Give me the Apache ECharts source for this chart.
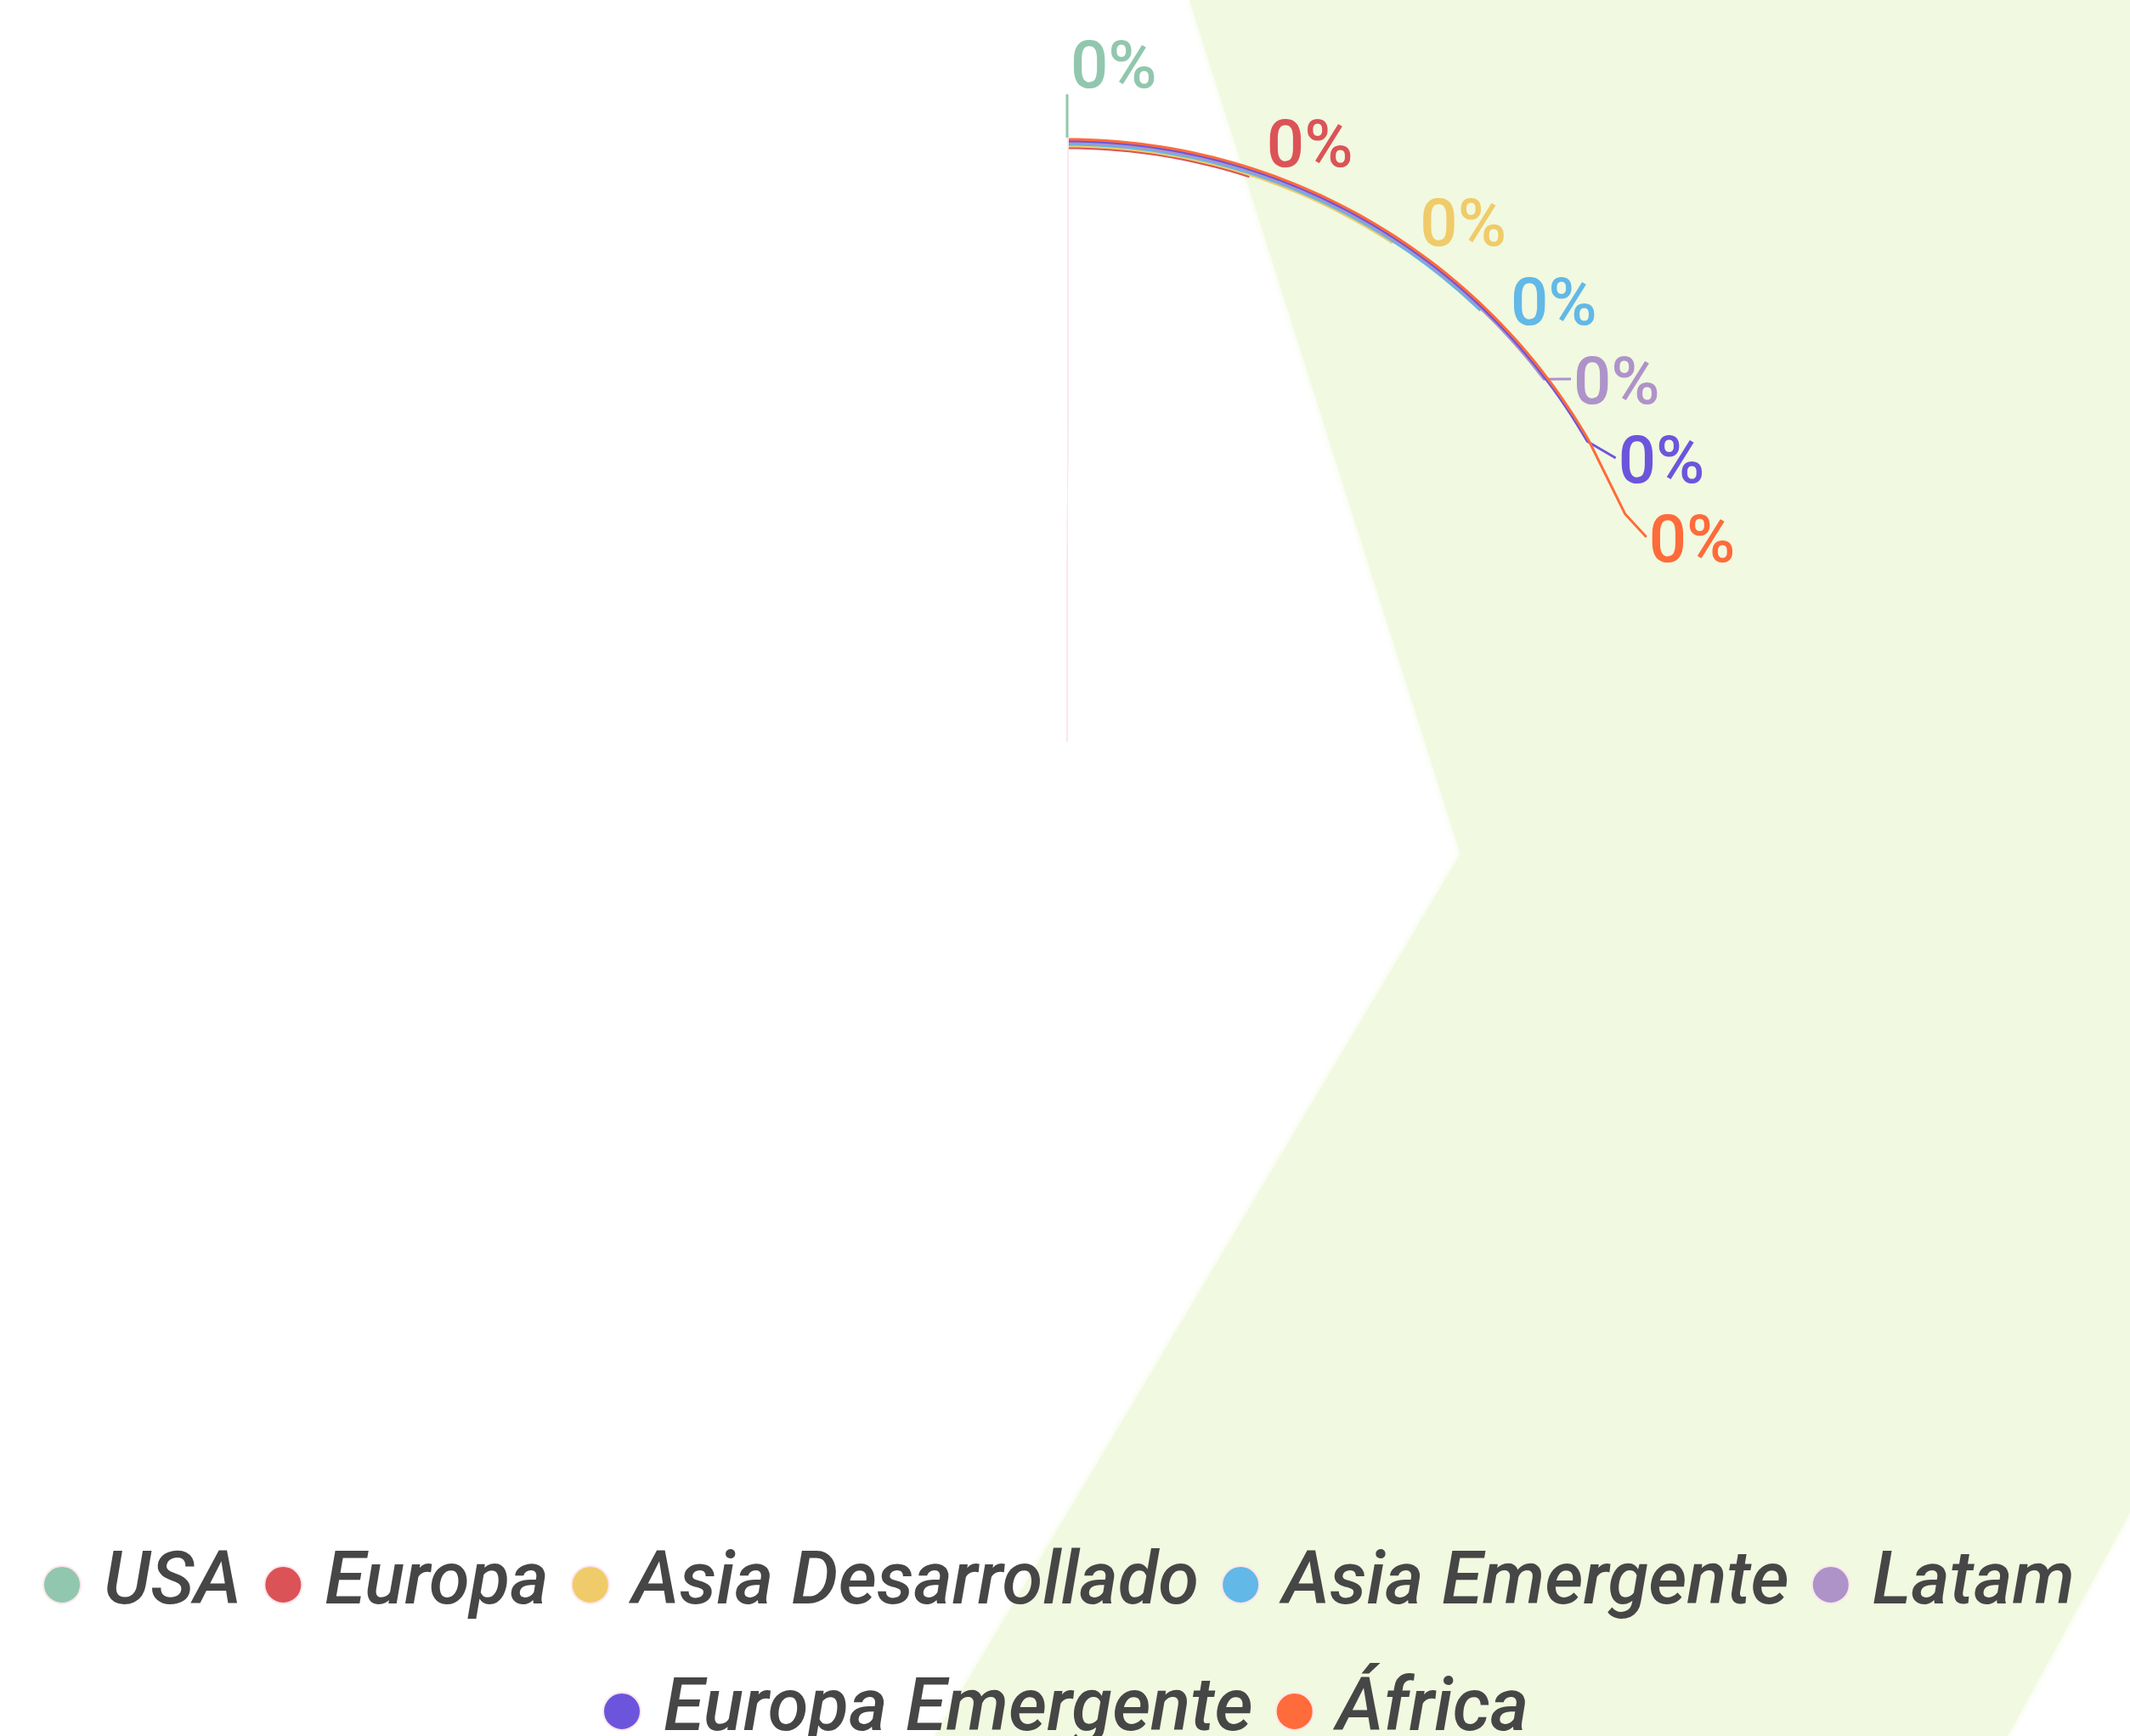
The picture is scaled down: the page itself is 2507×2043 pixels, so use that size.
<!DOCTYPE html>
<html>
<head>
<meta charset="utf-8">
<script src="https://cdn.jsdelivr.net/npm/echarts@6/dist/echarts.min.js"></script>
<style>
  html, body { margin: 0; padding: 0; background: #fff; }
  #chart { width: 2507px; height: 2043px; }
</style>
</head>
<body>
<div id="chart"></div>
<script>
const regions = ['USA', 'Europa', 'Asia Desarrollado', 'Asia Emergente', 'Latam', 'Europa Emergente', 'África']
const weights = [0, 0, 0, 0, 0, 0, 0]
const colors = ['#91c7ae', '#dc5357', '#f0cb69', '#62b8e7', '#ae93c9', '#6c55dc', '#ff6b3a']

// pie geometry (px)
const cx = 1256
const cy = 873
const radius = 711
const labelStep = 93

const chart = echarts.init(document.getElementById('chart'))

const legendText = {
  fontFamily: 'Roboto',
  fontStyle: 'italic',
  fontWeight: 500,
  fontSize: 87,
  lineHeight: 100,
  color: '#464646'
}

const legendBase = {
  icon: 'circle',
  itemWidth: 88,
  itemHeight: 44,
  itemGap: 26,
  textStyle: legendText
}

// labels stacked down the right side, guide lines run along the rim
const placeLabel = params => {
  const i = params.dataIndex
  const top = cy - radius
  const y = top - 79 + i * labelStep
  if (i === 0) {
    return {
      x: cx + 4, y, align: 'left', verticalAlign: 'middle',
      labelLinePoints: [[cx, top], [cx, y + 28]]
    }
  }
  const dy = cy - y
  const rl = 738 - 2.5 * i
  const x = cx + Math.sqrt(rl * rl - dy * dy)
  const ang = Math.atan2(x - cx, dy) * 180 / Math.PI
  const endAng = Math.min(ang * 0.96, 60)
  const r = radius - 2 - 2 * (regions.length - 1 - i)
  const pts = []
  for (let a = 0; a <= endAng; a += 1) {
    const t = a * Math.PI / 180
    pts.push([cx + r * Math.sin(t), cy - r * Math.cos(t)])
  }
  const te = endAng * Math.PI / 180
  const end = [cx + r * Math.sin(te), cy - r * Math.cos(te)]
  pts.push(end)
  if (end[1] < y) {
    if (y - end[1] > 60) pts.push([x - 28, y - 36])
    pts.push([x - 3, y - 9])
  }
  return { x, y, align: 'left', verticalAlign: 'middle', labelLinePoints: pts }
}

chart.setOption({
  animation: false,
  color: colors,
  graphic: [{
    type: 'polygon',
    z: -10,
    silent: true,
    shape: {
      points: [[1400, 0], [2507, 0], [2507, 1780], [2363, 2043], [1100, 2043], [1719, 1005]]
    },
    style: { fill: '#f1f9e0', shadowBlur: 8, shadowColor: '#f1f9e0' }
  }],
  legend: [
    Object.assign({ top: 1810, left: 45, data: regions.slice(0, 5) }, legendBase),
    Object.assign({ top: 1959, left: 704, data: regions.slice(5) }, legendBase)
  ],
  series: [{
    type: 'pie',
    center: [cx, cy],
    radius: radius,
    startAngle: 89.9,
    stillShowZeroSum: false,
    itemStyle: { borderColor: '#fde6ea', borderWidth: 1 },
    label: {
      formatter: '{d}%',
      color: 'inherit',
      fontFamily: 'Roboto',
      fontWeight: 500,
      fontSize: 78,
      lineHeight: labelStep
    },
    labelLine: {
      show: true,
      lineStyle: { width: 3 }
    },
    labelLayout: placeLabel,
    data: regions.map((name, i) => ({ name, value: weights[i] }))
  }]
})
</script>
</body>
</html>
